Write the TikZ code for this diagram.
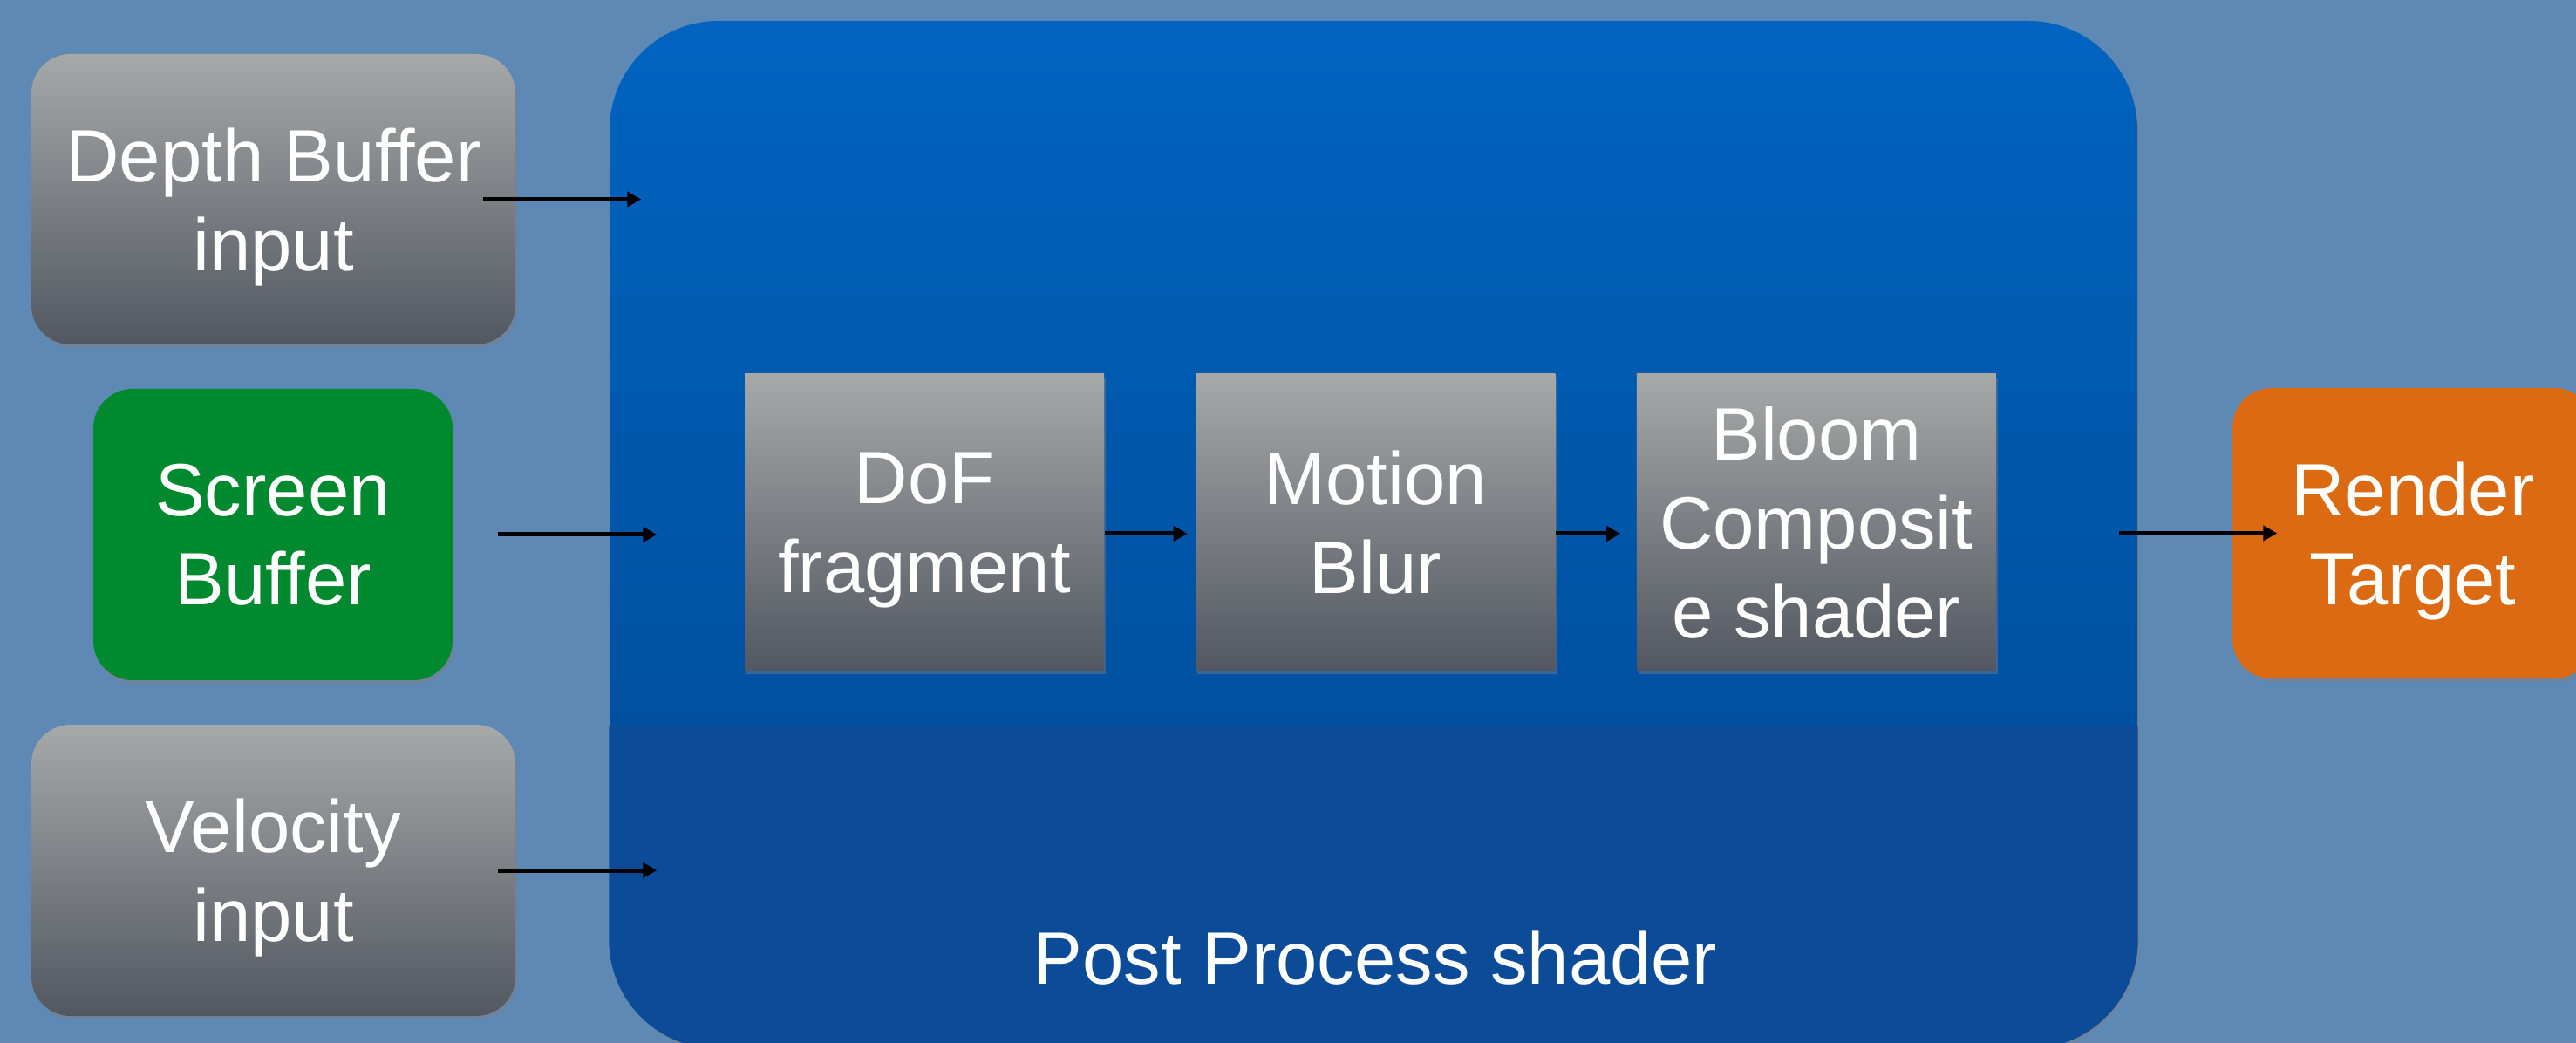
\documentclass[tikz,border=0pt]{standalone}
\usepackage{fontspec}
\setmainfont[Ligatures=NoCommon]{Liberation Sans}
\usepackage{tikz}
\usetikzlibrary{positioning, arrows.meta, shadows}
\definecolor{bgSlide}{RGB}{94,137,180}
\definecolor{ppTop}{RGB}{0,100,192}
\definecolor{ppBot}{RGB}{0,71,145}
\definecolor{ppBand}{RGB}{11,75,152}
\definecolor{boxTop}{RGB}{166,169,168}
\definecolor{boxBot}{RGB}{82,87,97}
\definecolor{scrGreen}{RGB}{0,137,47}
\definecolor{rtOrange}{RGB}{219,106,18}
\newcommand{\slidetxt}{\fontsize{24.2}{29}\selectfont}

\begin{document}
\begin{tikzpicture}[blk/.style={align=center, text=white, font=\slidetxt, inner sep=0pt, text depth=0pt, drop shadow={opacity=0.45, shadow xshift=0.02cm, shadow yshift=-0.04cm}},gradbox/.style={top color=boxTop, bottom color=boxBot},inbox/.style={blk, rounded corners=0.45cm, minimum width=5.55cm, minimum height=3.33cm},stage/.style={blk, gradbox, minimum width=4.12cm, minimum height=3.40cm},arr/.style={-{Triangle[length=0.16cm, width=0.17cm]}, line width=0.05cm, black},lbl/.style={text=white, font=\slidetxt, inner sep=0pt}]
\fill[bgSlide] (0,0) rectangle (29.54,-11.96);
\useasboundingbox (0,0) rectangle (29.54,-11.96);
% shader block
\node[blk, top color=ppTop, bottom color=ppBot, rounded corners=1.25cm, minimum width=17.52cm, minimum height=11.78cm] (pp) at (15.75,-6.13) {};
\begin{scope}
\clip[rounded corners=1.25cm] (pp.south west) rectangle (pp.north east);
\fill[ppBand] (pp.south west) rectangle (pp.east |- 0,-8.32);
\end{scope}
\node[lbl, anchor=base] (pplbl) at (15.77,-11.28) {Post Process shader};
\node[stage] (dof) at (10.60,-5.99) {DoF\\fragment};
\node[stage, right=1.04cm of dof] (blur) {Motion\\Blur};
\node[stage, right=0.92cm of blur] (bloom) {Bloom\\Composit\\e shader};
% inputs and output
\node[inbox, gradbox] (depth) at (3.135,-2.285) {Depth Buffer\\input};
\node[inbox, fill=scrGreen, minimum width=4.12cm, minimum height=3.34cm] (screen) at (3.13,-6.13) {Screen\\Buffer};
\node[inbox, gradbox, minimum height=3.34cm] (velo) at (3.135,-9.98) {Velocity\\input};
\node[inbox, fill=rtOrange, minimum width=4.14cm] (rt) at (27.67,-6.115) {Render\\Target};
\draw[arr] ([xshift=-0.38cm]depth.east) -- ([xshift=0.37cm]depth.east -| pp.west);
\draw[arr] ([xshift=0.51cm]screen.east) -- ([xshift=0.55cm]screen.east -| pp.west);
\draw[arr] ([xshift=-0.21cm]velo.east) -- ([xshift=0.55cm]velo.east -| pp.west);
\draw[arr, shorten >=0.09cm] ([yshift=-0.13cm]dof.east) -- ([yshift=-0.13cm]blur.west);
\draw[arr, shorten >=0.18cm] ([yshift=-0.13cm]blur.east) -- ([yshift=-0.13cm]bloom.west);
\draw[arr] ([xshift=-0.22cm]pp.east |- rt.west) -- ([xshift=0.52cm]rt.west);
\end{tikzpicture}
\end{document}
